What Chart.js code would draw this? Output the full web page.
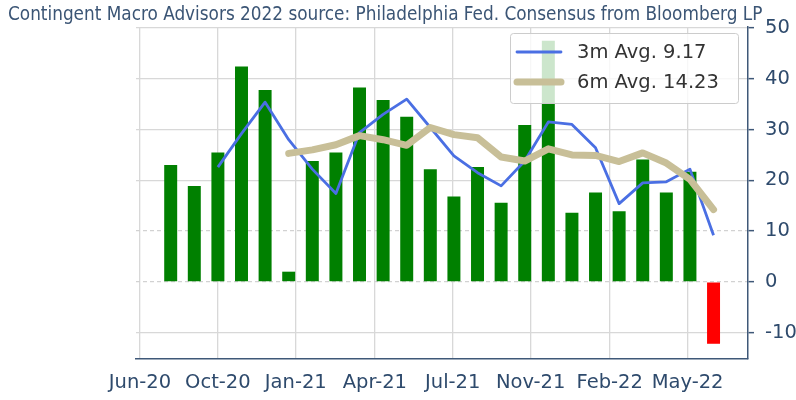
<!DOCTYPE html>
<html>
<head>
<meta charset="utf-8">
<script src="https://cdn.jsdelivr.net/npm/chart.js@4.4.1/dist/chart.umd.min.js"></script>
<style>
  html, body { margin: 0; padding: 0; background: #fff; }
  #wrap { width: 796px; height: 400px; }
</style>
</head>
<body>
<div id="wrap"><canvas id="chart" width="796" height="400"></canvas></div>
<script>
// monthly bars, Jul-20 .. Jun-22 (x = month index)
const months = ['Jul-20', 'Aug-20', 'Sep-20', 'Oct-20', 'Nov-20', 'Dec-20',
                'Jan-21', 'Feb-21', 'Mar-21', 'Apr-21', 'May-21', 'Jun-21',
                'Jul-21', 'Aug-21', 'Sep-21', 'Oct-21', 'Nov-21', 'Dec-21',
                'Jan-22', 'Feb-22', 'Mar-22', 'Apr-22', 'May-22', 'Jun-22'];
const barValues = [23.0, 18.9, 25.5, 42.4, 37.8, 2.0,
                   23.8, 25.5, 38.3, 35.8, 32.5, 22.2,
                   16.8, 22.6, 15.6, 30.9, 47.5, 13.6,
                   17.6, 13.9, 24.1, 17.6, 21.7, -12.2];

// moving averages (3m starts at 3rd month, 6m at 6th month)
const avg3Start = 2;
const avg3 = [22.6, 29.2, 35.4, 28.0, 22.2, 17.4, 29.4, 33.0, 36.0, 30.4, 24.8,
              21.5, 18.9, 23.8, 31.5, 31.0, 26.4, 15.4, 19.5, 19.7, 22.2, 9.17];
const avg6Start = 5;
const avg6 = [25.3, 26.0, 27.0, 28.8, 28.0, 26.9, 30.4, 29.0, 28.4, 24.6,
              23.8, 26.2, 25.0, 24.9, 23.7, 25.4, 23.4, 20.2, 14.23];

// x axis ticks (positions in month index) and their labels
const xTickPos = [-1.3, 2.0, 5.3, 8.65, 11.95, 15.25, 18.6, 21.9];
const xTickLabels = ['Jun-20', 'Oct-20', 'Jan-21', 'Apr-21', 'Jul-21', 'Nov-21', 'Feb-22', 'May-22'];
const yTicks = [-10, 0, 10, 20, 30, 40, 50];
const dashedLevels = [0, 10];   // these grid lines are dashed in the original

const titleText = 'Contingent Macro Advisors 2022 source: Philadelphia Fed. Consensus from Bloomberg LP';
const axisColor = '#3f5878';
const labelColor = '#2e4a6c';
const gridColor = '#d8d8d8';

// title drawn at the top-left of the canvas
const titlePlugin = {
    id: 'topTitle',
    afterDraw(chart) {
        const ctx = chart.ctx;
        ctx.save();
        ctx.font = '18.8px "DejaVu Sans Condensed", "DejaVu Sans", sans-serif';
        ctx.fillStyle = '#3b5575';
        ctx.textBaseline = 'middle';
        ctx.textAlign = 'left';
        ctx.fillText(titleText, 8, 15);
        ctx.restore();
    }
};

// matplotlib-like legend box in the upper right of the plot
const legendPlugin = {
    id: 'legendBox',
    afterDatasetsDraw(chart) {
        const { ctx, chartArea } = chart;
        const items = chart.data.datasets.filter(d => d.type === 'line');
        const w = 228, h = 70;
        const x0 = chartArea.right - 10 - w;
        const y0 = chartArea.top + 6;
        ctx.save();
        ctx.fillStyle = 'rgba(255,255,255,0.8)';
        ctx.strokeStyle = '#cccccc';
        ctx.lineWidth = 1;
        ctx.beginPath();
        ctx.roundRect(x0 + 0.5, y0 + 0.5, w, h, 3);
        ctx.fill();
        ctx.stroke();
        ctx.font = '19.5px "DejaVu Sans", sans-serif';
        ctx.textBaseline = 'middle';
        items.forEach((d, i) => {
            const y = y0 + 19 + i * 30;
            ctx.strokeStyle = d.borderColor;
            ctx.lineWidth = d.borderWidth;
            ctx.lineCap = 'round';
            ctx.beginPath();
            ctx.moveTo(x0 + 7, y);
            ctx.lineTo(x0 + 51, y);
            ctx.stroke();
            ctx.fillStyle = '#333333';
            ctx.fillText(d.label, x0 + 67, y + 1);
        });
        ctx.restore();
    }
};

new Chart('chart', {
    data: {
        datasets: [
            {
                type: 'line',
                label: '3m Avg. ' + avg3[avg3.length - 1].toFixed(2),
                data: avg3.map((v, i) => ({ x: avg3Start + i, y: v })),
                borderColor: '#4a6fe3',
                borderWidth: 2.8,
                pointRadius: 0,
                tension: 0,
                borderJoinStyle: 'round',
                order: 1
            },
            {
                type: 'line',
                label: '6m Avg. ' + avg6[avg6.length - 1].toFixed(2),
                data: avg6.map((v, i) => ({ x: avg6Start + i, y: v })),
                borderColor: '#c8bf98',
                borderWidth: 7,
                pointRadius: 0,
                tension: 0,
                borderCapStyle: 'round',
                borderJoinStyle: 'round',
                order: 0
            },
            {
                type: 'bar',
                label: 'Index',
                data: barValues.map((v, i) => ({ x: i, y: v })),
                backgroundColor: barValues.map(v => v < 0 ? '#ff0000' : '#008000'),
                barPercentage: 0.55,
                categoryPercentage: 1,
                order: 2
            }
        ]
    },
    options: {
        responsive: false,
        animation: false,
        layout: { padding: { left: 136, top: 27, right: 0, bottom: 0 } },
        plugins: {
            legend: { display: false },
            title: { display: false },
            tooltip: { enabled: false }
        },
        scales: {
            x: {
                type: 'linear',
                offset: false,
                min: -1.47,
                max: 24.46,
                afterBuildTicks: (scale) => { scale.ticks = xTickPos.map(v => ({ value: v })); },
                afterFit: (scale) => { scale.height = 41; },
                ticks: {
                    callback: (val, idx) => xTickLabels[idx],
                    color: labelColor,
                    font: { family: 'DejaVu Sans', size: 19.5 },
                    padding: 12,
                    maxRotation: 0,
                    autoSkip: false
                },
                grid: { color: gridColor, lineWidth: 1.3, drawTicks: false, offset: false },
                border: { color: axisColor, width: 1.5 }
            },
            y: {
                position: 'right',
                min: -15.2,
                max: 50.2,
                afterBuildTicks: (scale) => { scale.ticks = yTicks.map(v => ({ value: v })); },
                afterFit: (scale) => { scale.width = 48; },
                ticks: {
                    color: labelColor,
                    font: { family: 'DejaVu Sans', size: 19.5 },
                    padding: 11
                },
                grid: {
                    color: (c) => dashedLevels.includes(c.tick && c.tick.value) ? 'rgba(0,0,0,0)' : gridColor,
                    lineWidth: 1.3,
                    tickLength: 6,
                    tickColor: axisColor,
                    tickWidth: 1.5
                },
                border: { color: axisColor, width: 1.5 }
            },
            // same range, only carries the dashed grid lines
            yDash: {
                position: 'right',
                min: -15.2,
                max: 50.2,
                afterBuildTicks: (scale) => { scale.ticks = dashedLevels.map(v => ({ value: v })); },
                afterFit: (scale) => { scale.width = 0; },
                ticks: { display: false },
                grid: { color: '#d2d2d2', lineWidth: 1.3, drawTicks: false },
                border: { display: false, dash: [4, 3] }
            }
        }
    },
    plugins: [titlePlugin, legendPlugin]
});
</script>
</body>
</html>
